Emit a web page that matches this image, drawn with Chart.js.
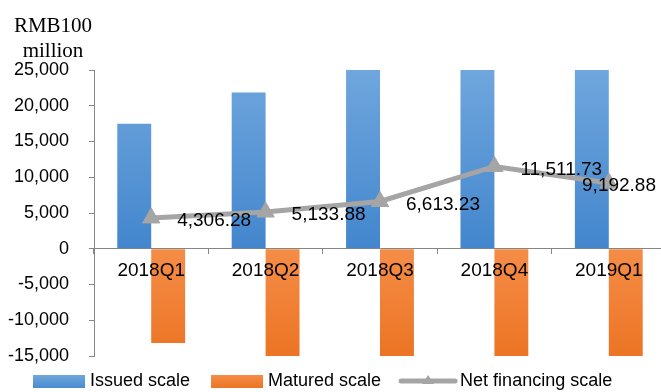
<!DOCTYPE html>
<html>
<head>
<meta charset="utf-8">
<script src="https://cdn.jsdelivr.net/npm/chart.js@4"></script>
<style>
html,body{margin:0;padding:0;background:#fff;overflow:hidden;}
#wrap{width:677px;height:392px;position:relative;}
canvas{display:block;}
</style>
</head>
<body>
<div id="wrap"><canvas id="c" width="677" height="392" style="width:677px;height:392px"></canvas></div>
<script>
const categories = ['2018Q1','2018Q2','2018Q3','2018Q4','2019Q1'];
const issuedScale = [17500, 21850, 26500, 29000, 25800];
const maturedScale = [-13193.72, -16716.12, -19886.77, -17488.27, -16607.12];
const netFinancing = [4306.28, 5133.88, 6613.23, 11511.73, 9192.88];
const yTicks = [25000, 20000, 15000, 10000, 5000, 0, -5000, -10000, -15000];
const unitLines = ['RMB100', 'million'];
const seriesNames = ['Issued scale', 'Matured scale', 'Net financing scale'];

const FONT = "'Liberation Sans', Arial, sans-serif";
const fmt = (v, d) => v.toLocaleString('en-US', {minimumFractionDigits: d, maximumFractionDigits: d});

function grad(ctx, top, bottom, c1, c2) {
  const chart = ctx.chart;
  const ca = chart.chartArea;
  if (!ca) return c1;
  const y = chart.scales.y;
  const t = y.getPixelForValue(top), b = y.getPixelForValue(bottom);
  const g = chart.ctx.createLinearGradient(0, t, 0, b);
  g.addColorStop(0, c1); g.addColorStop(1, c2);
  return g;
}

const overlay = {
  id: 'overlay',
  afterDraw(chart) {
    const ctx = chart.ctx;
    ctx.save();
    ctx.fillStyle = '#000';
    ctx.font = "21px 'Liberation Serif', 'Times New Roman', serif";
    ctx.textAlign = 'center';
    ctx.textBaseline = 'alphabetic';
    ctx.fillText(unitLines[0], 53, 32);
    ctx.fillText(unitLines[1], 53, 57);
    const meta = chart.getDatasetMeta(0);
    ctx.font = '19px ' + FONT;
    ctx.textAlign = 'left';
    ctx.textBaseline = 'middle';
    meta.data.forEach((pt, i) => {
      const txt = fmt(netFinancing[i], 2);
      const w = ctx.measureText(txt).width;
      let x = pt.x + 26;
      if (x + w > 656) x = 656 - w;
      ctx.fillText(txt, x, pt.y + 3);
    });
    ctx.font = '18px ' + FONT;
    ctx.textBaseline = 'middle';
    const ly = 381;
    let x = 33;
    const blueG = ctx.createLinearGradient(0, ly - 6, 0, ly + 7);
    blueG.addColorStop(0, '#6fa6dd'); blueG.addColorStop(1, '#4a8bd0');
    ctx.fillStyle = blueG; ctx.fillRect(x, ly - 6, 52, 13);
    ctx.fillStyle = '#000'; ctx.fillText(seriesNames[0], x + 57, ly);
    x = x + 57 + ctx.measureText(seriesNames[0]).width + 21;
    const orG = ctx.createLinearGradient(0, ly - 6, 0, ly + 7);
    orG.addColorStop(0, '#f58d47'); orG.addColorStop(1, '#ec7424');
    ctx.fillStyle = orG; ctx.fillRect(x, ly - 6, 52, 13);
    ctx.fillStyle = '#000'; ctx.fillText(seriesNames[1], x + 57, ly);
    x = x + 57 + ctx.measureText(seriesNames[1]).width + 18;
    ctx.strokeStyle = '#a5a5a5'; ctx.lineWidth = 5; ctx.lineCap = 'round';
    ctx.beginPath(); ctx.moveTo(x + 2, ly); ctx.lineTo(x + 56, ly); ctx.stroke();
    ctx.fillStyle = '#a5a5a5';
    ctx.beginPath(); ctx.moveTo(x + 29, ly - 6); ctx.lineTo(x + 35, ly + 3); ctx.lineTo(x + 23, ly + 3); ctx.closePath(); ctx.fill();
    ctx.fillStyle = '#000'; ctx.fillText(seriesNames[2], x + 61, ly);
    ctx.restore();
  }
};

new Chart(document.getElementById('c'), {
  type: 'bar',
  data: {
    labels: categories,
    datasets: [
      {
        type: 'line', label: seriesNames[2], data: netFinancing,
        borderColor: '#a5a5a5', backgroundColor: '#a5a5a5', borderWidth: 5,
        pointStyle: 'triangle', pointRadius: 10, pointBorderWidth: 1,
        pointBackgroundColor: '#a5a5a5', pointBorderColor: '#a5a5a5',
        tension: 0, order: 0
      },
      {
        label: seriesNames[0], data: issuedScale, order: 1,
        backgroundColor: (ctx) => grad(ctx, 25000, 0, '#6fa6dd', '#4386cd'),
        categoryPercentage: 0.593, barPercentage: 1
      },
      {
        label: seriesNames[1], data: maturedScale, order: 1,
        backgroundColor: (ctx) => grad(ctx, 0, -15000, '#f58d47', '#ec7424'),
        categoryPercentage: 0.593, barPercentage: 1
      }
    ]
  },
  options: {
    responsive: false, maintainAspectRatio: false, animation: false, devicePixelRatio: 1,
    layout: {padding: {left: 6, top: 70, bottom: 36, right: 0}},
    plugins: {legend: {display: false}, tooltip: {enabled: false}},
    scales: {
      x: {
        position: {y: 0},
        grid: {display: true, drawOnChartArea: false, drawTicks: true, tickLength: 5, color: '#868686', offset: true},
        border: {display: true, color: '#868686', width: 1},
        ticks: {z: 1, color: '#000', font: {family: FONT, size: 19}, padding: 6, maxRotation: 0}
      },
      y: {
        min: -15000, max: 25000,
        afterBuildTicks: (s) => { s.ticks = yTicks.map(v => ({value: v})); },
        afterFit: (s) => { s.width = 88; },
        grid: {display: true, drawOnChartArea: false, drawTicks: true, tickLength: 5, color: '#868686'},
        border: {display: true, color: '#868686', width: 1},
        ticks: {color: '#000', font: {family: FONT, size: 18}, padding: 20, callback: (v) => fmt(v, 0)}
      }
    }
  },
  plugins: [overlay]
});
</script>
</body>
</html>
